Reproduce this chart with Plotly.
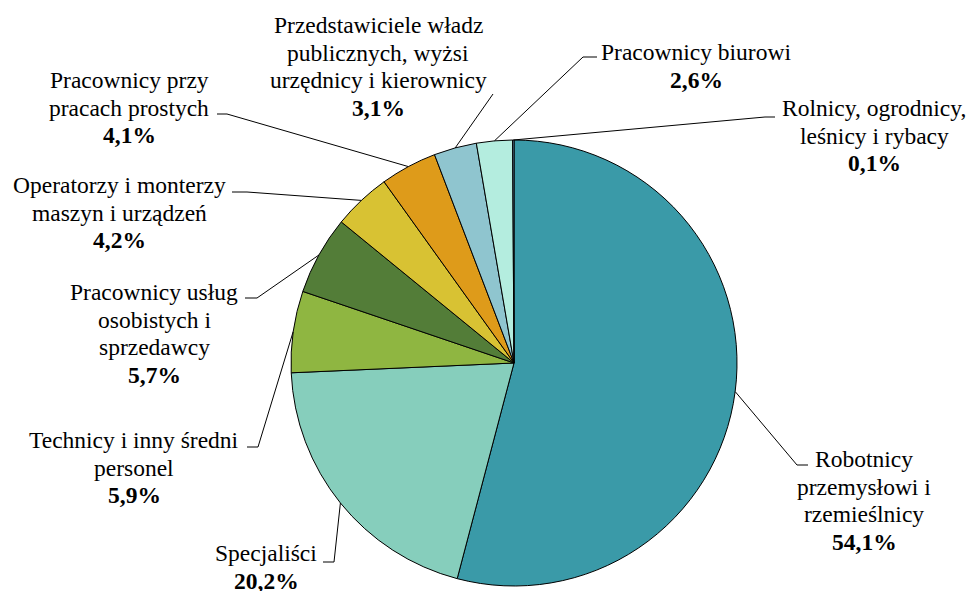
"""Pie chart: employment structure by occupation group."""

import math
import plotly.graph_objects as go

# data
categories = [
    "Robotnicy przemysłowi i rzemieślnicy",
    "Specjaliści",
    "Technicy i inny średni personel",
    "Pracownicy usług osobistych i sprzedawcy",
    "Operatorzy i monterzy maszyn i urządzeń",
    "Pracownicy przy pracach prostych",
    "Przedstawiciele władz publicznych, wyżsi urzędnicy i kierownicy",
    "Pracownicy biurowi",
    "Rolnicy, ogrodnicy, leśnicy i rybacy",
]
values = [54.1, 20.2, 5.9, 5.7, 4.2, 4.1, 3.1, 2.6, 0.1]

# label text split into lines as in the original
label_lines = [
    ["Robotnicy", "przemysłowi i", "rzemieślnicy"],
    ["Specjaliści"],
    ["Technicy i inny średni", "personel"],
    ["Pracownicy usług", "osobistych i", "sprzedawcy"],
    ["Operatorzy i monterzy", "maszyn i urządzeń"],
    ["Pracownicy przy", "pracach prostych"],
    ["Przedstawiciele władz", "publicznych, wyżsi", "urzędnicy i kierownicy"],
    ["Pracownicy biurowi"],
    ["Rolnicy, ogrodnicy,", "leśnicy i rybacy"],
]

colors = ["#3A9AA8", "#86CEBC", "#8FB641", "#537D38", "#D8C233",
          "#DE9B1A", "#8FC5CF", "#B4EDDF", "#6FA3C9"]

# layout (pixel coordinates, origin top-left)
W, H = 972, 591
CX, CY, R = 514, 363, 223
LINE_H = 27.7
FONT = "Liberation Serif"
FONT_SIZE = 23.5

# label block centre x, first-line y; leader elbow; leader end (next to text)
label_pos = [
    (864, 459), (266, 553), (134, 440), (154, 292), (119, 185),
    (129, 80), (378, 25), (696, 52), (874, 108),
]
elbows = [
    (797, 465), (334, 562), (258, 447), (257, 298), (247, 192),
    (227, 114), (493, 94), (583, 57), (765, 117),
]
ends = [
    (808, 465), (323, 562), (247, 447), (245, 298), (232, 192),
    (217, 114), (493, 94), (597, 57), (775, 117),
]

fig = go.Figure()

fig.add_trace(go.Pie(
    labels=categories,
    values=values,
    sort=False,
    direction="clockwise",
    rotation=0,
    textinfo="none",
    hoverinfo="label+percent",
    marker=dict(colors=colors, line=dict(color="black", width=1)),
    domain=dict(x=[(CX - R) / W, (CX + R) / W],
                y=[1 - (CY + R) / H, 1 - (CY - R) / H]),
    showlegend=False,
))

# invisible axes in pixel units for labels and leader lines
fig.add_trace(go.Scatter(x=[0, W], y=[0, H], mode="markers",
                         marker=dict(opacity=0), hoverinfo="skip",
                         showlegend=False))

total = sum(values)
cum = 0.0
shapes = []
annotations = []
for i, v in enumerate(values):
    # leader starts on the rim at the slice's middle angle
    mid = (cum + v / 2) / total * 2 * math.pi
    cum += v
    ax = CX + R * math.sin(mid)
    ay = CY - R * math.cos(mid)
    ex, ey = elbows[i]
    tx, ty = ends[i]
    shapes.append(dict(
        type="path", xref="x", yref="y",
        path=f"M {ax:.1f},{ay:.1f} L {ex},{ey} L {tx},{ty}",
        line=dict(color="black", width=1),
    ))
    lx, ly = label_pos[i]
    lines = label_lines[i] + ["<b>" + f"{v:.1f}".replace(".", ",") + "%</b>"]
    for k, txt in enumerate(lines):
        annotations.append(dict(
            x=lx, y=ly + k * LINE_H, xref="x", yref="y",
            text=txt, showarrow=False,
            xanchor="center", yanchor="middle",
            font=dict(family=FONT, size=FONT_SIZE, color="black"),
        ))

fig.update_layout(
    width=W, height=H,
    margin=dict(l=0, r=0, t=0, b=0),
    paper_bgcolor="white",
    plot_bgcolor="white",
    font=dict(family=FONT, color="black"),
    xaxis=dict(range=[0, W], visible=False, fixedrange=True),
    yaxis=dict(range=[H, 0], visible=False, fixedrange=True),
    shapes=shapes,
    annotations=annotations,
)

# drop the default page margin so the figure sits at the window's corner
fig.write_html("out.html", config={"displayModeBar": False},
               post_script="document.body.style.margin='0';")
